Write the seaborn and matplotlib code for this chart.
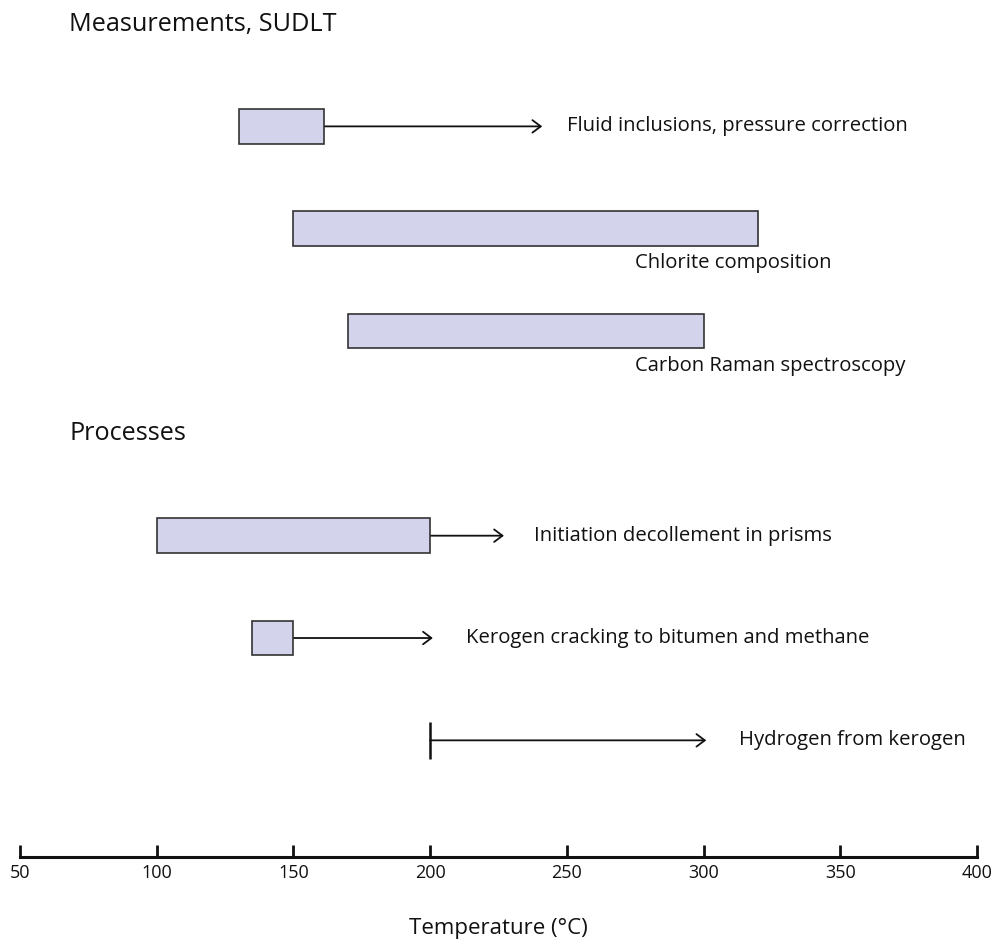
import numpy as np
import pandas as pd
import seaborn as sns
import matplotlib
matplotlib.use("Agg")
import matplotlib.pyplot as plt

# ranges (temperature, degC)
labels = ["Fluid inclusions, pressure correction", "Chlorite composition",
          "Carbon Raman spectroscopy", "Initiation decollement in prisms",
          "Kerogen cracking to bitumen and methane", "Hydrogen from kerogen"]
rows = [1, 2, 3, 5, 6, 7]
box_lo = [130, 150, 170, 100, 135, np.nan]
box_hi = [161, 320, 300, 200, 150, np.nan]
arrow_from = [161, np.nan, np.nan, 200, 150, 200]
arrow_to = [241, np.nan, np.nan, 227, 201, 301]
label_x = [250, 275, 275, 238, 213, 313]
label_below = [False, True, True, False, False, False]

headings = ["Measurements, SUDLT", "Processes"]
heading_rows = [0, 4]

xticks = [50, 100, 150, 200, 250, 300, 350, 400]

df = pd.DataFrame({"label": labels, "row": rows, "lo": box_lo, "hi": box_hi,
                   "a0": arrow_from, "a1": arrow_to, "lx": label_x,
                   "below": label_below})

sns.set_style("white")
plt.rcParams["font.family"] = ["Open Sans", "DejaVu Sans"]

fig = plt.figure(figsize=(9.93, 9.41), dpi=100)
ax = fig.add_axes([20 / 993, 84 / 941, 957 / 993, 857 / 941])

fill = "#d3d3ec"
edge = "#333333"
bh = 0.34

boxes = df.dropna(subset=["lo"])
ax.barh(boxes["row"], boxes["hi"] - boxes["lo"], left=boxes["lo"], height=bh,
        color=fill, edgecolor=edge, linewidth=1.2, zorder=3)

for _, r in df.iterrows():
    if not np.isnan(r["a0"]):
        ax.annotate("", xy=(r["a1"], r["row"]), xytext=(r["a0"], r["row"]),
                    arrowprops=dict(arrowstyle="->,head_length=0.6,head_width=0.45",
                                    color="#111111", lw=1.3, shrinkA=0, shrinkB=0),
                    zorder=2)
        if np.isnan(r["lo"]):
            # bare start tick where there is no box
            ax.vlines(r["a0"], r["row"] - 0.18, r["row"] + 0.18,
                      color="#111111", lw=1.8)
    ty = r["row"] + (0.34 if r["below"] else 0)
    ax.text(r["lx"], ty, r["label"], fontsize=14.6, va="center", ha="left",
            color="#111111")

for h, hr in zip(headings, heading_rows):
    ax.text(68, hr, h, fontsize=18.2, va="center", ha="left", color="#111111")

ax.set_xlim(50, 400)
ax.set_ylim(8.14, -0.235)
ax.set_xticks(xticks)
ax.set_yticks([])
for s in ["top", "left", "right"]:
    ax.spines[s].set_visible(False)
ax.spines["bottom"].set_linewidth(2.2)
ax.spines["bottom"].set_color("#111111")
ax.tick_params(axis="x", bottom=True, direction="in", length=9, width=2,
               color="#111111", pad=5, labelsize=13, labelcolor="#111111")
ax.set_xlabel("Temperature (°C)", fontsize=16, labelpad=26, color="#111111")
ax.patch.set_alpha(0)

fig.savefig("out.png", dpi=100)
